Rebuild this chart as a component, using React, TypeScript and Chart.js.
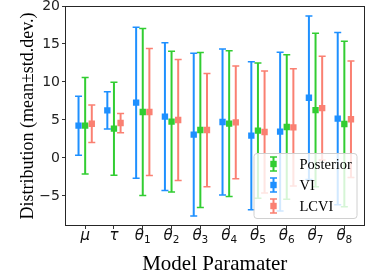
import React, { useEffect, useRef } from 'react';
import { Chart, registerables } from 'chart.js';

Chart.register(...registerables);

// ---- data ----
const tickLabels = ['μ', 'τ', 'θ_1', 'θ_2', 'θ_3', 'θ_4', 'θ_5', 'θ_6', 'θ_7', 'θ_8'];
const posteriorMean = [4.25, 3.86, 6.05, 4.78, 3.68, 4.52, 3.6, 4.08, 6.3, 4.47];
const posteriorStd = [6.35, 6.12, 11.0, 9.27, 10.2, 9.6, 8.9, 9.52, 10.1, 10.88];
const viMean = [4.25, 6.27, 7.28, 5.44, 3.07, 4.74, 2.94, 3.46, 7.93, 5.18];
const viStd = [3.88, 2.45, 9.94, 9.72, 10.72, 9.6, 9.74, 10.44, 10.77, 11.32];
const lcviMean = [4.5, 4.6, 6.05, 5.0, 3.68, 4.69, 3.42, 4.03, 6.57, 5.09];
const lcviStd = [2.46, 1.27, 8.37, 7.95, 7.45, 7.43, 8.03, 7.72, 6.83, 7.67];
const yTicks = [-5, 0, 5, 10, 15, 20];
const seriesNames = ['Posterior', 'VI', 'LCVI'];
const xTitle = 'Model Paramater';
const yTitle = 'Distribution (mean±std.dev.)';

// ---- style ----
const seriesColors = ['#32CD32', '#1E90FF', '#FA8072'];
const seriesOffsets = [0, -0.23, 0.23];
const serif = '"Liberation Serif", "Times New Roman", serif';
const sans = '"DejaVu Sans", sans-serif';

const errorBarPlugin = {
  id: 'errorBars',
  beforeDatasetDraw(chart: any, args: any) {
    const ds: any = chart.data.datasets[args.index];
    const xs = chart.scales.x;
    const ys = chart.scales.y;
    const ctx = chart.ctx;
    ctx.save();
    ctx.strokeStyle = ds.errColor;
    ds.data.forEach((p: any, i: number) => {
      const s = ds.errStd[i];
      const x = xs.getPixelForValue(p.x);
      const y1 = ys.getPixelForValue(p.y + s);
      const y2 = ys.getPixelForValue(p.y - s);
      ctx.lineWidth = 2;
      ctx.beginPath();
      ctx.moveTo(x, y1);
      ctx.lineTo(x, y2);
      ctx.stroke();
      ctx.lineWidth = 1.5;
      ctx.beginPath();
      ctx.moveTo(x - 3.5, y1);
      ctx.lineTo(x + 3.5, y1);
      ctx.moveTo(x - 3.5, y2);
      ctx.lineTo(x + 3.5, y2);
      ctx.stroke();
    });
    ctx.restore();
  },
};

const decorPlugin = {
  id: 'decor',
  afterDraw(chart: any) {
    const ctx = chart.ctx;
    const a = chart.chartArea;
    const xs = chart.scales.x;
    ctx.save();
    // frame
    ctx.strokeStyle = '#262626';
    ctx.lineWidth = 1;
    ctx.strokeRect(Math.round(a.left) + 0.5, Math.round(a.top) + 0.5, Math.round(a.right - a.left) - 1, Math.round(a.bottom - a.top) - 1);

    // x tick labels (math style)
    ctx.fillStyle = '#111';
    ctx.textBaseline = 'alphabetic';
    ctx.textAlign = 'left';
    tickLabels.forEach((lab, i) => {
      const [base, sub] = lab.split('_');
      ctx.font = `italic 15px ${sans}`;
      const w1 = ctx.measureText(base).width;
      ctx.font = `10.5px ${sans}`;
      const w2 = sub ? ctx.measureText(sub).width : 0;
      const x0 = xs.getPixelForValue(i) - (w1 + w2) / 2;
      const baseY = a.bottom + 14;
      ctx.font = `italic 15px ${sans}`;
      ctx.fillText(base, x0, baseY);
      if (sub) {
        ctx.font = `10.5px ${sans}`;
        ctx.fillText(sub, x0 + w1, baseY + 3);
      }
    });

    // legend
    const bw = 103;
    const bh = 65;
    const bx = a.right - 8 - bw;
    const by = a.bottom - 8 - bh;
    ctx.beginPath();
    (ctx as any).roundRect(bx + 0.5, by + 0.5, bw, bh, 3);
    ctx.fillStyle = 'rgba(255,255,255,0.8)';
    ctx.fill();
    ctx.strokeStyle = '#d0d0d0';
    ctx.lineWidth = 1;
    ctx.stroke();
    seriesNames.forEach((name, k) => {
      const cy = by + 11 + k * 21;
      const mx = bx + 20;
      ctx.strokeStyle = seriesColors[k];
      ctx.fillStyle = seriesColors[k];
      ctx.lineWidth = 2;
      ctx.beginPath();
      ctx.moveTo(mx, cy - 7);
      ctx.lineTo(mx, cy + 7);
      ctx.stroke();
      ctx.lineWidth = 1.5;
      ctx.beginPath();
      ctx.moveTo(mx - 3.5, cy - 7);
      ctx.lineTo(mx + 3.5, cy - 7);
      ctx.moveTo(mx - 3.5, cy + 7);
      ctx.lineTo(mx + 3.5, cy + 7);
      ctx.stroke();
      ctx.fillRect(mx - 3.2, cy - 3.2, 6.4, 6.4);
      ctx.fillStyle = '#000';
      ctx.font = `14.5px ${serif}`;
      ctx.textBaseline = 'middle';
      ctx.fillText(name, bx + 46, cy + 1);
    });
    ctx.restore();
  },
};

export default function App() {
  const ref = useRef<HTMLCanvasElement | null>(null);

  useEffect(() => {
    if (!ref.current) return;
    const means = [posteriorMean, viMean, lcviMean];
    const stds = [posteriorStd, viStd, lcviStd];
    const datasets: any[] = seriesNames.map((name, k) => ({
      label: name,
      data: means[k].map((m, i) => ({ x: i + seriesOffsets[k], y: m })),
      errStd: stds[k],
      errColor: seriesColors[k],
      backgroundColor: seriesColors[k],
      borderColor: seriesColors[k],
      pointStyle: 'rect',
      pointRadius: 4.5,
      pointBorderWidth: 0,
      showLine: false,
      order: 3 - k,
    }));

    const chart = new Chart(ref.current, {
      type: 'scatter',
      data: { datasets },
      plugins: [errorBarPlugin, decorPlugin],
      options: {
        animation: false,
        responsive: false,
        layout: { padding: { left: 0, right: 2, top: 6, bottom: 0 } },
        plugins: { legend: { display: false }, tooltip: { enabled: false } },
        scales: {
          x: {
            type: 'linear',
            min: -0.7,
            max: 9.7,
            afterBuildTicks: (s: any) => {
              s.ticks = tickLabels.map((_, i) => ({ value: i }));
            },
            afterFit: (s: any) => {
              s.height = 49;
              s.paddingLeft = 0;
              s.paddingRight = 0;
            },
            grid: { display: true, drawOnChartArea: false, drawTicks: true, tickLength: 3, color: '#333' },
            border: { display: false },
            ticks: { callback: () => '', padding: 0 },
            title: {
              display: true,
              text: xTitle,
              color: '#000',
              font: { family: serif, size: 21, lineHeight: 1 },
              padding: { top: 0, bottom: 0 },
            },
          },
          y: {
            type: 'linear',
            min: -8.95,
            max: 20,
            afterBuildTicks: (s: any) => {
              s.ticks = yTicks.map((v) => ({ value: v }));
            },
            afterFit: (s: any) => {
              s.width = 65;
              s.paddingTop = 0;
              s.paddingBottom = 0;
            },
            grid: { display: true, drawOnChartArea: false, drawTicks: true, tickLength: 3, color: '#333' },
            border: { display: false },
            ticks: {
              callback: (v: any) => (Number(v) < 0 ? '\u2212' + Math.abs(Number(v)) : String(v)),
              color: '#222',
              font: { family: sans, size: 14 },
              padding: 2,
            },
            title: {
              display: true,
              text: yTitle,
              color: '#000',
              font: { family: serif, size: 18, lineHeight: 1 },
              padding: { top: 19, bottom: 0 },
            },
          },
        },
      } as any,
    });
    return () => chart.destroy();
  }, []);

  return (
    <div style={{ position: 'absolute', left: 0, top: 0, width: 369, height: 275, background: '#fff' }}>
      <canvas ref={ref} width={369} height={275} style={{ display: 'block', width: 369, height: 275 }} />
    </div>
  );
}
